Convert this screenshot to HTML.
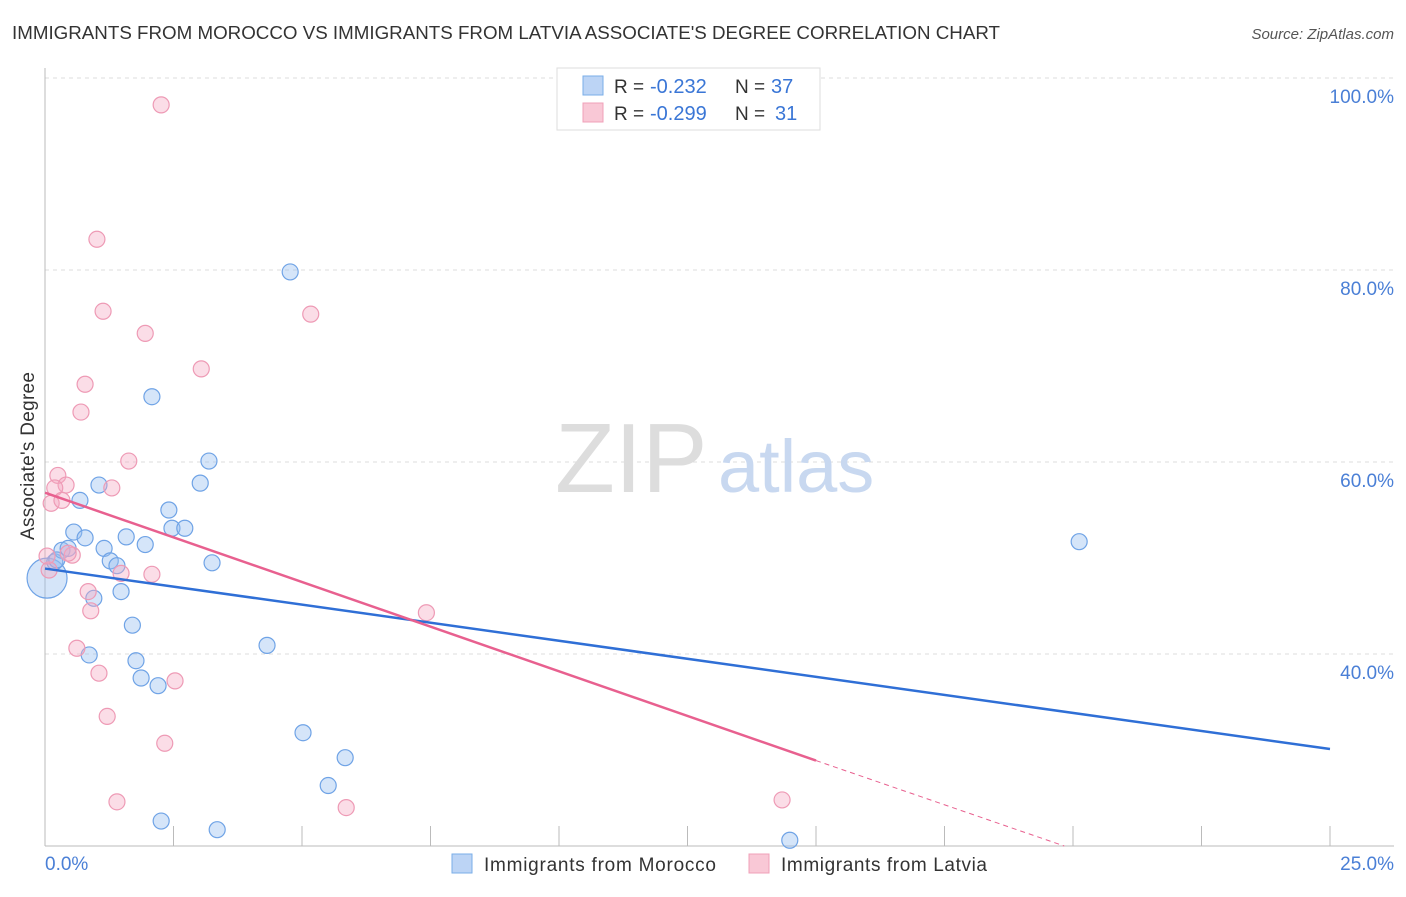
<!DOCTYPE html>
<html><head><meta charset="utf-8"><style>
body{margin:0;background:#fff;font-family:"Liberation Sans",sans-serif;}
svg text{font-family:"Liberation Sans",sans-serif;}
</style></head><body>
<svg width="1406" height="892">
<text x="12" y="39" font-size="18" fill="#333" textLength="988" lengthAdjust="spacingAndGlyphs">IMMIGRANTS FROM MOROCCO VS IMMIGRANTS FROM LATVIA ASSOCIATE'S DEGREE CORRELATION CHART</text>
<text x="1394" y="39" font-size="15" fill="#555" font-style="italic" text-anchor="end">Source: ZipAtlas.com</text>
<g id="grid"></g>
<line x1="45" y1="68" x2="45" y2="846" stroke="#bbb"/>
<line x1="45" y1="846" x2="1394" y2="846" stroke="#bbb"/>
<text x="555" y="492" font-size="98" fill="#ddd" font-family="Liberation Serif">ZIP</text>
<text x="718" y="492" font-size="74" fill="#c8d8f0">atlas</text>
<text transform="translate(34,456) rotate(-90)" font-size="19" fill="#333" text-anchor="middle" textLength="168">Associate's Degree</text>
<text x="45" y="870" font-size="19" fill="#4a7fd6">0.0%</text>
<text x="1394" y="870" font-size="19" fill="#4a7fd6" text-anchor="end">25.0%</text>
<g id="points"></g>
<g id="lines"></g>
<g>
<rect x="557" y="68" width="263" height="62" fill="#fff" stroke="#ddd"/>
<rect x="583" y="76" width="20" height="19" fill="#bcd4f5" stroke="#7aaee8"/>
<rect x="583" y="103" width="20" height="19" fill="#f9c8d6" stroke="#f0a0b8"/>
<text y="93" font-size="19" fill="#333"><tspan x="614">R =</tspan><tspan x="650" fill="#3a76d6" font-size="20">-0.232</tspan><tspan x="735">N =</tspan><tspan x="771" fill="#3a76d6" font-size="20">37</tspan></text>
<text y="120" font-size="19" fill="#333"><tspan x="614">R =</tspan><tspan x="650" fill="#3a76d6" font-size="20">-0.299</tspan><tspan x="735">N =</tspan><tspan x="775" fill="#3a76d6" font-size="20">31</tspan></text>
</g>
<g>
<rect x="452" y="854" width="20" height="19" fill="#bcd4f5" stroke="#7aaee8"/>
<text x="484" y="871" font-size="19" fill="#333" textLength="232">Immigrants from Morocco</text>
<rect x="749" y="854" width="20" height="19" fill="#f9c8d6" stroke="#f0a0b8"/>
<text x="781" y="871" font-size="19" fill="#333" textLength="206">Immigrants from Latvia</text>
</g>
</svg>
<script>
const yTicks=[40,60,80,100];
const xTicks=[0,2.5,5,7.5,10,12.5,15,17.5,20,22.5,25];
const blueX=[0.04,0.19,0.33,0.45,0.68,0.56,0.78,1.05,1.15,1.27,1.4,1.48,1.58,1.7,1.77,1.87,1.95,2.2,2.26,2.41,2.47,2.72,3.02,3.19,3.25,3.35,4.32,4.77,5.02,5.51,5.84,2.08,0.95,0.86,20.12,14.49,0.23];
const blueY=[47.9,49.6,50.8,51.0,56.0,52.7,52.1,57.6,51.0,49.7,49.2,46.5,52.2,43.0,39.3,37.5,51.4,36.7,22.6,55.0,53.1,53.1,57.8,60.1,49.5,21.7,40.9,79.8,31.8,26.3,29.2,66.8,45.8,39.9,51.7,20.6,49.8];
const blueR=[20,8,8,8,8,8,8,8,8,8,8,8,8,8,8,8,8,8,8,8,8,8,8,8,8,8,8,8,8,8,8,8,8,8,8,8,8];
const pinkX=[2.26,1.01,1.13,1.95,5.17,3.04,0.78,0.7,1.63,0.25,0.41,0.19,1.3,0.12,0.33,0.53,0.45,0.08,0.04,1.48,2.08,0.84,0.89,0.62,1.05,2.53,1.21,2.33,1.4,5.86,7.42,14.34];
const pinkY=[97.2,83.2,75.7,73.4,75.4,69.7,68.1,65.2,60.1,58.6,57.6,57.3,57.3,55.7,56.0,50.3,50.5,48.75,50.2,48.4,48.3,46.5,44.5,40.6,38.0,37.2,33.5,30.7,24.6,24.0,44.3,24.8];
const blueLine=[48.9,30.1];
const pinkLine=[56.8,28.9,20.0];
const pinkSolidEnd=15.0, pinkDashEnd=19.83;
const sx=v=>45+v/25*1285, sy=v=>846-(v-20)*9.6;
const NS='http://www.w3.org/2000/svg';
const g=document.getElementById('grid'), pts=document.getElementById('points'), ln=document.getElementById('lines');
function mk(tag,attrs,parent){const e=document.createElementNS(NS,tag);for(const k in attrs)e.setAttribute(k,attrs[k]);parent.appendChild(e);return e;}
yTicks.forEach(t=>{
 const l=mk('line',{x1:45,x2:1394,y1:sy(t),y2:sy(t),stroke:'#ddd','stroke-dasharray':'4,4'},g);
 
 
 const tx=mk('text',{x:1394,y:sy(t)+25,'font-size':19,fill:'#4a7fd6','text-anchor':'end'},g);
 tx.textContent=t.toFixed(1)+'%';
 
 
});
xTicks.forEach(t=>{
 const l=mk('line',{x1:sx(t),x2:sx(t),y1:826,y2:846,stroke:'#bbb'},g);
 
 
});
blueX.forEach((x,i)=>{
 const c=mk('circle',{cx:sx(x),cy:sy(blueY[i]),r:blueR[i],fill:'rgba(150,190,240,0.4)',stroke:'#6fa3e6','stroke-width':1.2},pts);
 
 
});
pinkX.forEach((x,i)=>{
 const c=mk('circle',{cx:sx(x),cy:sy(pinkY[i]),r:8,fill:'rgba(245,170,195,0.4)',stroke:'#ee9ab5','stroke-width':1.2},pts);
 
 
});
const bl=mk('line',{x1:sx(0),y1:sy(blueLine[0]),x2:sx(25),y2:sy(blueLine[1]),stroke:'#2f6fd6','stroke-width':2.5},ln);


const py=x=>pinkLine[0]+(pinkLine[1]-pinkLine[0])*x/pinkSolidEnd;
const pl=mk('line',{x1:sx(0),y1:sy(py(0)),x2:sx(pinkSolidEnd),y2:sy(py(pinkSolidEnd)),stroke:'#e8608f','stroke-width':2.5},ln);


const pd=mk('line',{x1:sx(pinkSolidEnd),y1:sy(py(pinkSolidEnd)),x2:sx(pinkDashEnd),y2:sy(pinkLine[2]),stroke:'#e8608f','stroke-width':1,'stroke-dasharray':'5,4'},ln);


</script>
</body></html>
